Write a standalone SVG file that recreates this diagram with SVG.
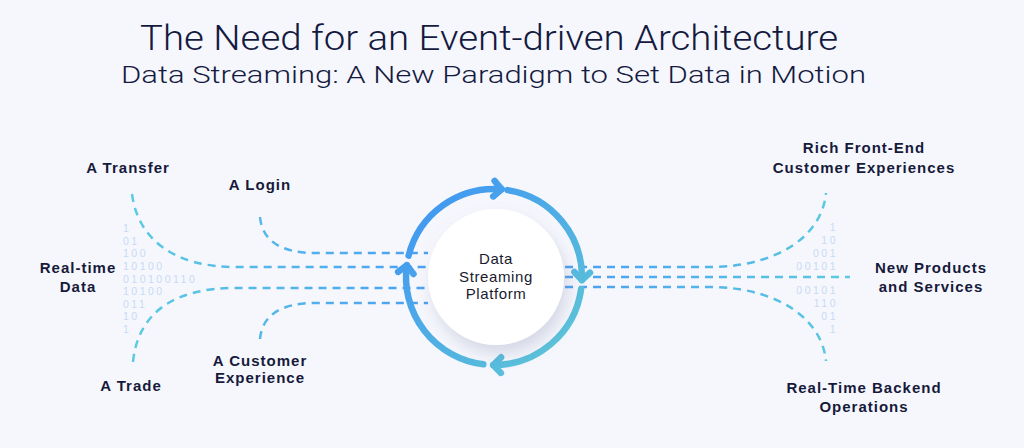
<svg xmlns="http://www.w3.org/2000/svg" width="1024" height="448" viewBox="0 0 1024 448">
  <defs>
    <style>
      .title { font-family: Roboto, "Liberation Sans", sans-serif; fill: #141a3f; }
      .label { font-family: "Liberation Sans", Arial, sans-serif; font-weight: 700; font-size: 15px; letter-spacing: 1px; fill: #161a3a; text-anchor: middle; }
      .bits { font-family: "Liberation Sans", Arial, sans-serif; font-size: 10.5px; fill: #c6daf5; letter-spacing: 2.5px; }
      .flow { fill: none; stroke-width: 2.5; stroke-dasharray: 8 6; }
      .ring { fill: none; stroke: url(#ringGrad); stroke-width: 6.5; stroke-linecap: round; stroke-linejoin: round; }
      .center { font-family: "Liberation Sans", Arial, sans-serif; font-size: 15px; fill: #1a1b2e; text-anchor: middle; letter-spacing: 0.6px; }
    </style>
    <linearGradient id="leftGrad" gradientUnits="userSpaceOnUse" x1="130" y1="0" x2="430" y2="0">
      <stop offset="0" stop-color="#5ccbe0"/>
      <stop offset="1" stop-color="#4a9ff2"/>
    </linearGradient>
    <linearGradient id="rightGrad" gradientUnits="userSpaceOnUse" x1="565" y1="0" x2="850" y2="0">
      <stop offset="0" stop-color="#4a9ff2"/>
      <stop offset="1" stop-color="#5ccbe0"/>
    </linearGradient>
    <linearGradient id="ringGrad" gradientUnits="userSpaceOnUse" x1="420" y1="195" x2="575" y2="360">
      <stop offset="0" stop-color="#4096f2"/>
      <stop offset="1" stop-color="#5ec7d6"/>
    </linearGradient>
    <filter id="shadow" x="-40%" y="-40%" width="180%" height="180%">
      <feDropShadow dx="4" dy="9" stdDeviation="8" flood-color="#7f86a8" flood-opacity="0.28"/>
    </filter>
  </defs>

  <rect x="0" y="0" width="1024" height="448" fill="#f6f7fd"/>

  <g id="title">
    <text class="title" x="140" y="49.5" font-size="35" font-weight="300" textLength="698" lengthAdjust="spacingAndGlyphs">The Need for an Event-driven Architecture</text>
    <text class="title" x="121" y="82.7" font-size="23" font-weight="300" textLength="745" lengthAdjust="spacingAndGlyphs">Data Streaming: A New Paradigm to Set Data in Motion</text>
  </g>

  <g id="bits-left" class="bits">
    <text x="123" y="232">1</text>
    <text x="123" y="245">01</text>
    <text x="123" y="257">100</text>
    <text x="123" y="270">10100</text>
    <text x="123" y="283">010100110</text>
    <text x="123" y="295">10100</text>
    <text x="123" y="308">011</text>
    <text x="123" y="320">10</text>
    <text x="123" y="333">1</text>
  </g>
  <g id="bits-right" class="bits" text-anchor="end">
    <text x="838" y="231">1</text>
    <text x="838" y="244">10</text>
    <text x="838" y="257">001</text>
    <text x="838" y="270">00101</text>
    <text x="838" y="294">00101</text>
    <text x="838" y="307">110</text>
    <text x="838" y="320">01</text>
    <text x="838" y="333">1</text>
  </g>

  <g id="connectors">
    <path class="flow" stroke="url(#leftGrad)" d="M132,194 C138,240 175,267 235,267 H428"/>
    <path class="flow" stroke="url(#leftGrad)" d="M260,217 C262,240 280,253 315,253 H428"/>
    <path class="flow" stroke="url(#leftGrad)" d="M133,362 C138,312 175,288 235,288 H428"/>
    <path class="flow" stroke="url(#leftGrad)" d="M260,339 C262,316 280,303 315,303 H428"/>
    <path class="flow" stroke="url(#rightGrad)" d="M565,267 H715 C780,265 822,235 826,193"/>
    <path class="flow" stroke="url(#rightGrad)" d="M565,277 H850"/>
    <path class="flow" stroke="url(#rightGrad)" d="M565,287 H715 C780,289 822,320 826,361"/>
  </g>

  <g id="ring">
    <path class="ring" d="M408.6,255.7 A88,88 0 0 1 501.7,189.3"/>
    <path class="ring" d="M494.6,180.9 L501.7,189.3 L493.2,196.4"/>
    <path class="ring" d="M507.8,190.1 A88,88 0 0 1 581.9,280.1"/>
    <path class="ring" d="M574.4,272.0 L581.9,280.1 L590.0,272.6"/>
    <path class="ring" d="M581.1,289.2 A88,88 0 0 1 493.2,365"/>
    <path class="ring" d="M501.1,357.3 L493.2,365 L500.9,372.9"/>
    <path class="ring" d="M483.3,364.3 A88,88 0 0 1 406.8,265.2"/>
    <path class="ring" d="M398.1,271.9 L406.8,265.2 L413.5,274.0"/>
  </g>

  <g id="platform">
    <circle cx="496" cy="277" r="68" fill="#ffffff" filter="url(#shadow)"/>
    <text class="center" x="496" y="264">Data<tspan x="496" dy="18">Streaming</tspan><tspan x="496" dy="17">Platform</tspan></text>
  </g>

  <g id="a-transfer"><text class="label" x="128" y="173">A Transfer</text></g>
  <g id="a-login"><text class="label" x="260" y="190">A Login</text></g>
  <g id="realtime-data"><text class="label" x="78" y="273">Real-time<tspan x="78" dy="19">Data</tspan></text></g>
  <g id="a-trade"><text class="label" x="131" y="391">A Trade</text></g>
  <g id="a-customer-experience"><text class="label" x="260" y="366">A Customer<tspan x="260" dy="17">Experience</tspan></text></g>
  <g id="rich-front-end"><text class="label" x="864" y="153">Rich Front-End<tspan x="864" dy="20">Customer Experiences</tspan></text></g>
  <g id="new-products"><text class="label" x="931" y="273">New Products<tspan x="931" dy="19">and Services</tspan></text></g>
  <g id="realtime-backend"><text class="label" x="864" y="393">Real-Time Backend<tspan x="864" dy="19">Operations</tspan></text></g>
</svg>
